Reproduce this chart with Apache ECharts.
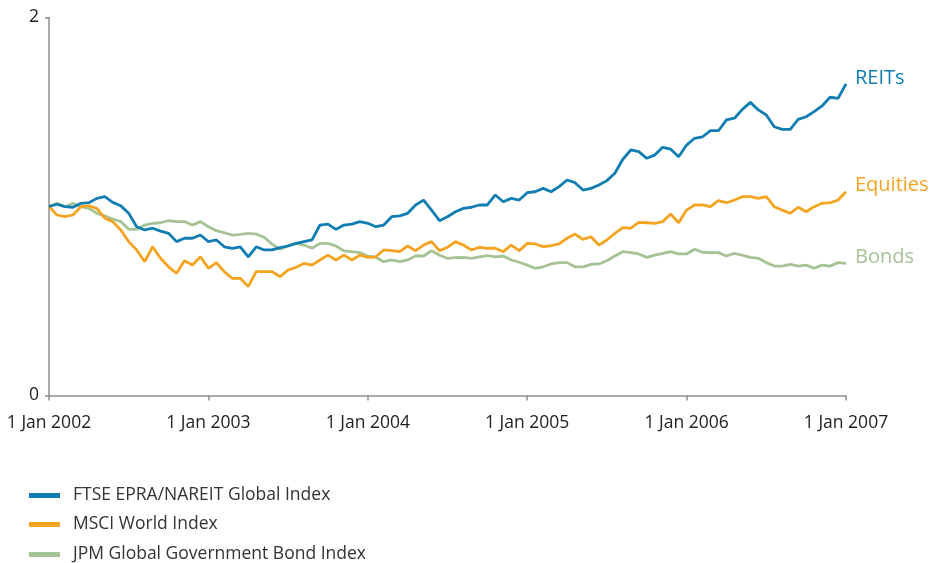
<!DOCTYPE html>
<html>
<head>
<meta charset="utf-8">
<script src="https://cdn.jsdelivr.net/npm/echarts@6/dist/echarts.min.js"></script>
<style>
html,body{margin:0;padding:0;background:#fff;}
#chart{width:935px;height:563px;}
</style>
</head>
<body>
<div id="chart"></div>
<script>
// Sample dates as fractional years (every 0.05 year from 1 Jan 2002 to 1 Jan 2007)
const years = Array.from({length: 101}, (_, i) => +(2002 + i * 0.05).toFixed(2));
const yearTicks = [2002, 2003, 2004, 2005, 2006, 2007];

const seriesNames = ['FTSE EPRA/NAREIT Global Index', 'MSCI World Index', 'JPM Global Government Bond Index'];
const endLabels = ['REITs', 'Equities', 'Bonds'];

const reits = [
  1.00, 1.012, 0.999, 0.996, 1.017, 1.020, 1.043, 1.052, 1.022, 1.004,
  0.964, 0.893, 0.876, 0.885, 0.870, 0.858, 0.814, 0.832, 0.832, 0.849,
  0.814, 0.823, 0.787, 0.779, 0.787, 0.734, 0.787, 0.770, 0.770, 0.782,
  0.791, 0.805, 0.814, 0.823, 0.902, 0.907, 0.879, 0.902, 0.907, 0.920,
  0.911, 0.893, 0.902, 0.946, 0.950, 0.964, 1.008, 1.034, 0.981, 0.925,
  0.946, 0.972, 0.990, 0.996, 1.008, 1.008, 1.061, 1.025, 1.043, 1.034,
  1.073, 1.078, 1.096, 1.078, 1.105, 1.140, 1.126, 1.087, 1.096, 1.114,
  1.137, 1.176, 1.250, 1.299, 1.290, 1.255, 1.272, 1.313, 1.303, 1.263,
  1.325, 1.361, 1.369, 1.401, 1.401, 1.458, 1.467, 1.514, 1.551, 1.511,
  1.484, 1.422, 1.408, 1.408, 1.461, 1.475, 1.502, 1.532, 1.578, 1.572,
  1.648
];

const equities = [
  1.00, 0.955, 0.946, 0.955, 0.999, 1.003, 0.990, 0.938, 0.920, 0.876,
  0.814, 0.770, 0.708, 0.787, 0.726, 0.681, 0.647, 0.713, 0.690, 0.734,
  0.673, 0.703, 0.655, 0.620, 0.620, 0.576, 0.655, 0.655, 0.655, 0.629,
  0.664, 0.678, 0.699, 0.690, 0.717, 0.743, 0.717, 0.743, 0.717, 0.743,
  0.731, 0.734, 0.770, 0.766, 0.761, 0.791, 0.766, 0.796, 0.814, 0.766,
  0.784, 0.814, 0.796, 0.770, 0.784, 0.779, 0.779, 0.761, 0.796, 0.766,
  0.805, 0.802, 0.787, 0.793, 0.802, 0.832, 0.854, 0.826, 0.840, 0.796,
  0.823, 0.858, 0.888, 0.885, 0.916, 0.914, 0.911, 0.920, 0.960, 0.914,
  0.981, 1.008, 1.008, 0.999, 1.031, 1.020, 1.034, 1.052, 1.052, 1.043,
  1.052, 0.999, 0.981, 0.964, 0.996, 0.972, 0.999, 1.017, 1.020, 1.034,
  1.078
];

const bonds = [
  1.00, 1.017, 0.999, 1.017, 0.999, 0.990, 0.964, 0.950, 0.934, 0.920,
  0.879, 0.879, 0.902, 0.911, 0.914, 0.925, 0.920, 0.920, 0.902, 0.920,
  0.893, 0.872, 0.861, 0.849, 0.853, 0.858, 0.854, 0.837, 0.800, 0.774,
  0.793, 0.805, 0.796, 0.779, 0.805, 0.805, 0.791, 0.765, 0.761, 0.756,
  0.738, 0.731, 0.708, 0.717, 0.708, 0.717, 0.738, 0.738, 0.766, 0.742,
  0.726, 0.729, 0.731, 0.726, 0.734, 0.740, 0.734, 0.738, 0.717, 0.705,
  0.690, 0.673, 0.681, 0.696, 0.703, 0.703, 0.681, 0.681, 0.694, 0.696,
  0.713, 0.738, 0.761, 0.756, 0.749, 0.731, 0.743, 0.752, 0.761, 0.749,
  0.749, 0.774, 0.758, 0.756, 0.756, 0.738, 0.752, 0.742, 0.731, 0.726,
  0.703, 0.685, 0.685, 0.694, 0.685, 0.690, 0.673, 0.690, 0.685, 0.703,
  0.699
];

const colors = ['#107db3', '#f5a422', '#a5c394'];
const values = [reits, equities, bonds];
const legendTops = [486.5, 515.5, 545.5];

const chart = echarts.init(document.getElementById('chart'), null, {renderer: 'canvas'});
const font = '"Open Sans", "DejaVu Sans", sans-serif';

chart.setOption({
  animation: false,
  color: colors,
  grid: {left: 49, right: 89, top: 17.5, bottom: 167.5, containLabel: false},
  legend: seriesNames.map((name, k) => ({
    orient: 'vertical',
    left: 29,
    top: legendTops[k],
    padding: 0,
    itemWidth: 31,
    itemHeight: 5,
    icon: 'rect',
    data: [name],
    selectedMode: false,
    textStyle: {fontFamily: font, fontSize: 17.5, color: '#333', lineHeight: 18, padding: [0, 0, 0, 8]}
  })),
  xAxis: {
    type: 'value',
    min: 2002,
    max: 2007,
    interval: 1,
    splitLine: {show: false},
    axisLine: {lineStyle: {color: '#8f8f8f', width: 1.5}},
    axisTick: {show: true, length: 5, lineStyle: {color: '#8f8f8f', width: 1.5}},
    axisLabel: {
      margin: 19,
      fontFamily: font, fontSize: 17.5, color: '#222',
      formatter: v => yearTicks.includes(v) ? '1 Jan ' + v : ''
    }
  },
  yAxis: {
    type: 'value',
    min: 0,
    max: 2,
    interval: 2,
    splitLine: {show: false},
    axisLine: {show: true, lineStyle: {color: '#8f8f8f', width: 1.5}},
    axisTick: {show: true, length: 4, lineStyle: {color: '#8f8f8f', width: 1.5}},
    axisLabel: {margin: 10, fontFamily: font, fontSize: 17.5, color: '#222'}
  },
  series: values.map((vals, k) => ({
    name: seriesNames[k],
    type: 'line',
    showSymbol: false,
    symbol: 'none',
    data: vals.map((v, i) => [years[i], v]),
    lineStyle: {width: 2.8, color: colors[k]},
    itemStyle: {color: colors[k]},
    z: 3 - k,
    endLabel: {
      show: true,
      formatter: endLabels[k],
      fontFamily: font,
      fontSize: 20,
      color: colors[k],
      offset: [1, -6]
    }
  }))
});
</script>
</body>
</html>
